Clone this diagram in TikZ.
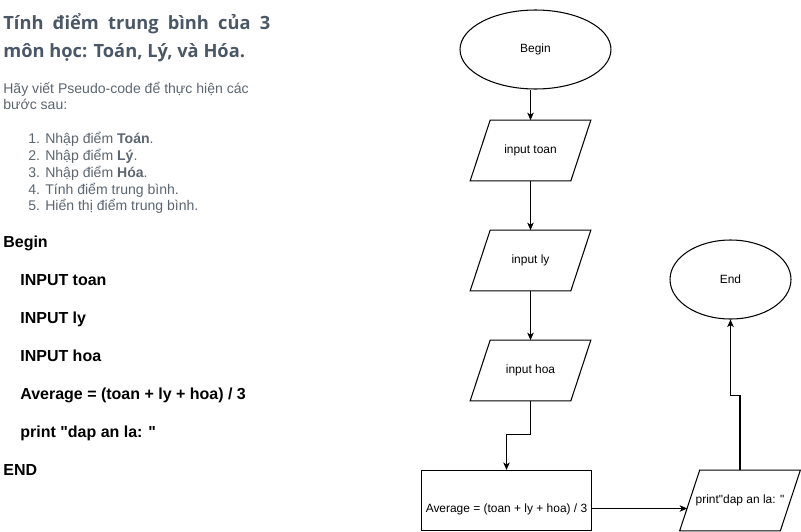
\documentclass[tikz,border=0pt]{standalone}
\usepackage{fontspec}
\setmainfont{Liberation Sans}[Ligatures=TeXOff]
\newfontfamily\headfont{Open Sans}
\usetikzlibrary{arrows.meta,shapes.geometric}
\definecolor{headGrey}{HTML}{4A5766}
\definecolor{textGrey}{HTML}{5C6670}
\tikzset{
  arr/.style={-{Stealth[length=1.5mm,width=1.3mm,inset=0.4mm]}, line width=0.6pt},
  term/.style={draw, ellipse, line width=0.6pt, inner sep=0pt,
    font=\fontsize{6.8}{8}\selectfont},
  % text part of a parallelogram; its slanted outline is drawn below
  io/.style={rectangle, minimum width=2cm, minimum height=1.2cm,
    inner sep=0pt, font=\fontsize{6.8}{8}\selectfont},
  proc/.style={draw, rectangle, minimum width=3.4cm, minimum height=1.2cm,
    inner sep=0pt, line width=0.6pt, font=\fontsize{6.8}{8}\selectfont},
  head/.style={anchor=base west, inner sep=0pt, text=headGrey,
    font=\headfont\bfseries\fontsize{10.4}{12}\selectfont},
  intro/.style={anchor=base west, inner sep=0pt, text=textGrey,
    font=\fontsize{8}{9}\selectfont},
  code/.style={anchor=base west, inner sep=0pt, font=\bfseries\fontsize{9.1}{10}\selectfont}
}

\begin{document}
\begin{tikzpicture}[x=0.02cm,y=-0.02cm]
  \path[use as bounding box] (0,0) rectangle (801,531);
  % left column: task and pseudo-code
  \node[head] (title1) at (3,29) {\makebox[5.34cm][s]{Tính điểm trung bình của 3}};
  \node[head] (title2) at (3,57) {môn học: Toán, Lý, và Hóa.};
  \node[intro] (intro1) at (3,93) {Hãy viết Pseudo-code để thực hiện các};
  \node[intro] (intro2) at (3,109) {bước sau:};
  \node[intro] (step1) at (28,143) {1. Nhập điểm \textbf{Toán}.};
  \node[intro] (step2) at (28,160) {2. Nhập điểm \textbf{Lý}.};
  \node[intro] (step3) at (28,177) {3. Nhập điểm \textbf{Hóa}.};
  \node[intro] (step4) at (28,194) {4. Tính điểm trung bình.};
  \node[intro] (step5) at (28,210) {5. Hiển thị điểm trung bình.};
  \node[code] (cbegin) at (3,247) {Begin};
  \node[code] (cin1) at (20,285) {INPUT toan};
  \node[code] (cin2) at (20,323) {INPUT ly};
  \node[code] (cin3) at (20,361) {INPUT hoa};
  \node[code] (cavg) at (20,399) {Average = (toan + ly + hoa) / 3};
  \node[code] (cprint) at (20,437) {print "dap an la: "};
  \node[code] (cend) at (3,475) {END};
  % flowchart
  \node[term, minimum width=3.02cm, minimum height=1.58cm] (begin) at (535.5,49.5) {Begin};
  \node[io] (toan) at (530.5,150.5) {input toan};
  \node[io] (ly) at (530.5,260.5) {input ly};
  \node[io] (hoa) at (530.5,370.5) {input hoa};
  \node[proc] (avg) at (506.5,500.5)
    {\raisebox{-0.16cm}[\height][0pt]{Average = (toan + ly + hoa) / 3}};
  \node[io] (print) at (740,500.5) {print"dap an la: "};
  \node[term, minimum width=2.42cm, minimum height=1.58cm] (end) at (730.5,279.5) {End};
  \foreach \n in {toan,ly,hoa,print}
    \draw[line width=0.6pt] ([xshift=-0.2cm]\n.south west) -- ([xshift=-0.2cm]\n.south east)
      -- ([xshift=0.2cm]\n.north east) -- ([xshift=0.2cm]\n.north west) -- cycle;
  \draw[arr] (begin.south -| toan.north) -- (toan.north);
  \draw[arr] (toan.south) -- (ly.north);
  \draw[arr] (ly.south) -- (hoa.north);
  \draw[arr] (hoa.south) -- ++(0,34) -| (avg.north);
  \draw[arr] ([yshift=-0.16cm]avg.east) -- ([yshift=-0.16cm,xshift=-0.05cm]print.west);
  \draw[arr] (print.north) -- ++(0,-75) -| (end.south);
\end{tikzpicture}
\end{document}
